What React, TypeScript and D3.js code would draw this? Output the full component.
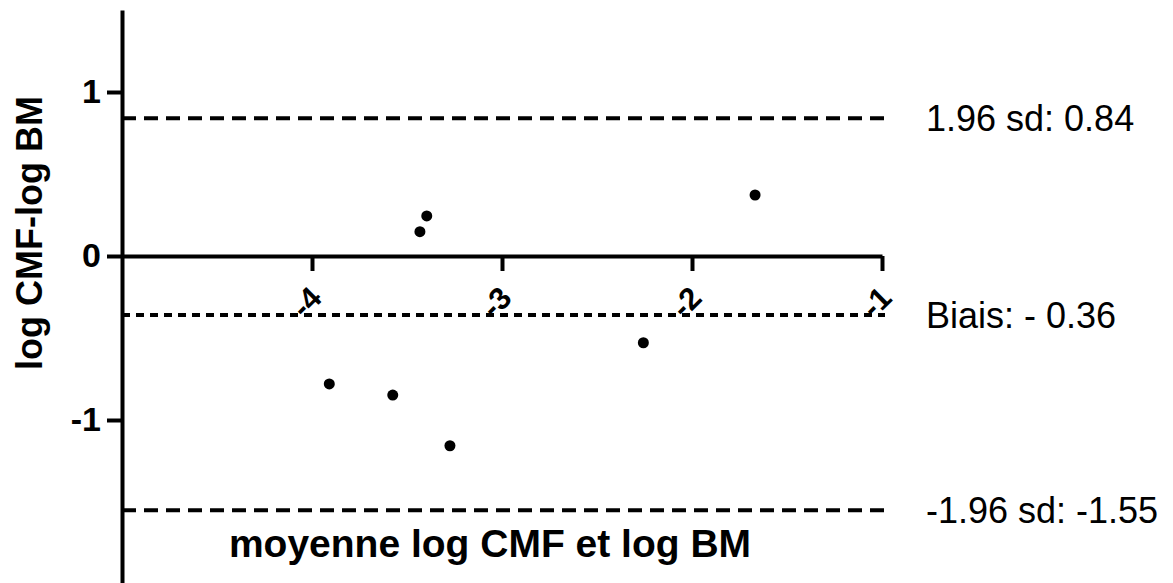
import { useEffect, useRef } from 'react'
import * as d3 from 'd3'

// Bland-Altman: mean of log CMF and log BM vs difference
const meanLog = [-3.396, -3.432, -3.909, -3.575, -3.274, -2.256, -1.668]
const diffLog = [0.244, 0.148, -0.780, -0.848, -1.157, -0.529, 0.372]

const xTicks = [-4, -3, -2, -1]
const yTicks = [-1, 0, 1]

const upperLimit = 0.84
const bias = -0.36
const lowerLimit = -1.55
const limitLabels = ['1.96 sd: 0.84', 'Biais: - 0.36', '-1.96 sd: -1.55']

const FONT = '"Liberation Sans", Arial, sans-serif'

export default function App() {
  const svgRef = useRef<SVGSVGElement>(null)

  useEffect(() => {
    if (!svgRef.current) return
    const width = 1173
    const height = 583

    const svg = d3.select(svgRef.current)
    svg.selectAll('*').remove()
    svg.attr('width', width).attr('height', height)

    const x = d3.scaleLinear().domain([-5, -1]).range([122, 882])
    const y = d3.scaleLinear().domain([-2, 1.5]).range([584, 10])

    const g = svg.append('g')

    // limit lines
    const lines = [
      { v: upperLimit, dash: '14,8', label: limitLabels[0] },
      { v: bias, dash: '8,6', label: limitLabels[1] },
      { v: lowerLimit, dash: '14,8', label: limitLabels[2] },
    ]
    lines.forEach(l => {
      g.append('line')
        .attr('x1', x(-5)).attr('x2', x(-1) + 3)
        .attr('y1', y(l.v)).attr('y2', y(l.v))
        .attr('stroke', '#000').attr('stroke-width', 4)
        .attr('stroke-dasharray', l.dash)
      g.append('text')
        .attr('x', 926).attr('y', y(l.v)).attr('dy', '0.35em')
        .attr('font-family', FONT).attr('font-size', 36).attr('fill', '#000')
        .text(l.label)
    })

    // y axis
    g.append('g').attr('transform', `translate(${x(-5)},0)`)
      .call(d3.axisLeft(y).tickValues(yTicks).tickSize(15).tickSizeOuter(0).tickPadding(6).tickFormat(d => `${d}`))
      .call(ax => {
        ax.select('.domain').attr('stroke', '#000').attr('stroke-width', 4)
        ax.selectAll('.tick line').attr('stroke', '#000').attr('stroke-width', 4)
        ax.selectAll('.tick text').attr('fill', '#000').attr('font-size', 34).attr('font-weight', 'bold').attr('font-family', FONT)
      })

    // x axis drawn at y = 0
    const xa = g.append('g').attr('transform', `translate(0,${y(0)})`)
      .call(d3.axisBottom(x).tickValues(xTicks).tickSize(15).tickSizeOuter(0).tickFormat(() => ''))
    xa.select('.domain').attr('stroke', '#000').attr('stroke-width', 4)
    xa.selectAll('.tick line').attr('stroke', '#000').attr('stroke-width', 4)

    // rotated x tick labels
    g.append('g').selectAll('text').data(xTicks).enter().append('text')
      .attr('transform', d => `translate(${x(d) - 6},${y(0) + 46}) rotate(-45)`)
      .attr('text-anchor', 'middle').attr('dy', '0.35em')
      .attr('font-family', FONT).attr('font-size', 31).attr('font-weight', 'bold').attr('fill', '#000')
      .text(d => `${d}`)

    // points
    g.append('g').selectAll('circle').data(meanLog).enter().append('circle')
      .attr('cx', d => x(d)).attr('cy', (_, i) => y(diffLog[i]))
      .attr('r', 5.5).attr('fill', '#000')

    // axis titles
    g.append('text').attr('x', 490).attr('y', 557).attr('text-anchor', 'middle')
      .attr('font-family', FONT).attr('font-size', 39).attr('font-weight', 'bold').attr('fill', '#000')
      .text('moyenne log CMF et log BM')
    g.append('text').attr('transform', 'translate(42,233) rotate(-90)').attr('text-anchor', 'middle')
      .attr('font-family', FONT).attr('font-size', 36).attr('font-weight', 'bold').attr('fill', '#000')
      .text('log CMF-log BM')
  }, [])

  return (
    <div style={{ position: 'absolute', left: 0, top: 0, background: '#fff' }}>
      <svg ref={svgRef} style={{ display: 'block' }} />
    </div>
  )
}
